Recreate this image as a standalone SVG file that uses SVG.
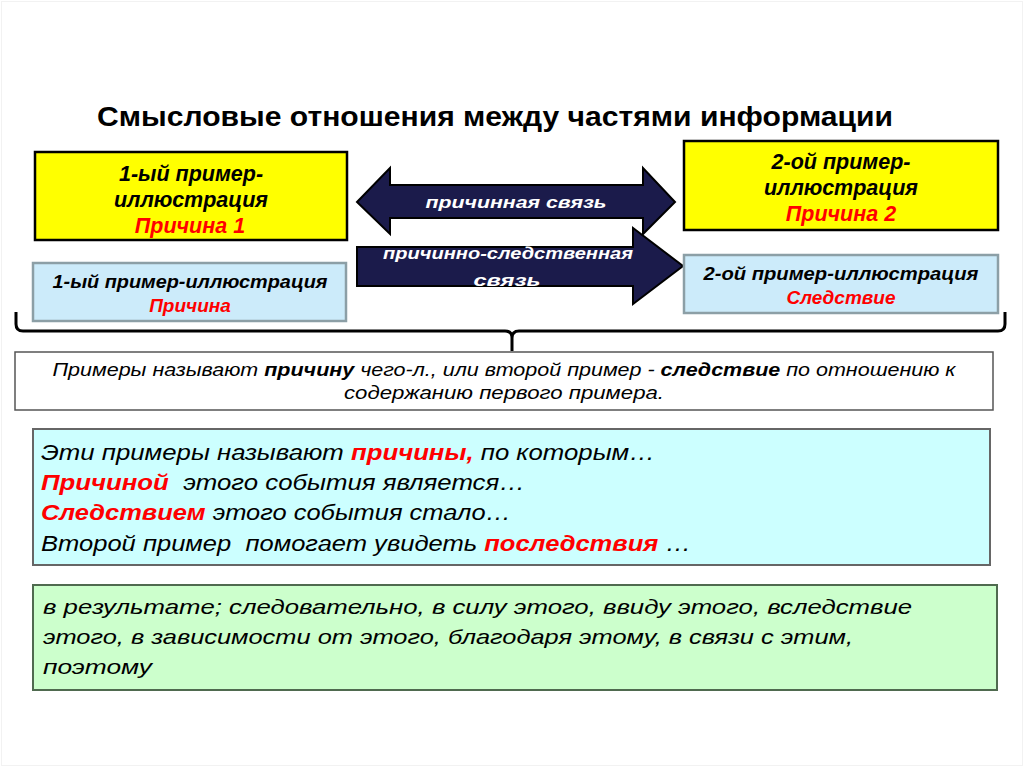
<svg xmlns="http://www.w3.org/2000/svg" width="1024" height="767" viewBox="0 0 1024 767">
<style>
text{font-family:"Liberation Sans",Arial,sans-serif;}
.bi{font-weight:bold;font-style:italic;}
.i{font-style:italic;}
.red{fill:#FF0000;}
.blk{fill:#000;}
.wht{fill:#FFFFFF;font-weight:bold;font-style:italic;font-size:17px;}
.yel{fill:#FFFF00;stroke:#000;stroke-width:2.5;}
.lb{fill:#CCEBFA;stroke:#8C9FA6;stroke-width:2.5;}
.arrow{fill:#1B1B4B;stroke:#000;stroke-width:2;}
</style>
<rect x="0" y="0" width="1024" height="767" fill="#FFFFFF"/>
<rect x="1.5" y="1.5" width="1021" height="764" fill="none" stroke="#F2F2F2" stroke-width="1"/>

<g id="title">
<text x="495" y="126" text-anchor="middle" font-size="28" font-weight="bold" textLength="796" lengthAdjust="spacingAndGlyphs">Смысловые отношения между частями информации</text>
</g>

<g id="connectors">
<path class="arrow" d="M357,202 L390,168 L390,185 L643,185 L643,168 L675,202 L643,234 L643,218 L390,218 L390,234 Z"/>
<text class="wht" x="516" y="208" text-anchor="middle" textLength="181" lengthAdjust="spacingAndGlyphs">причинная связь</text>
<path class="arrow" d="M357,247 L633,247 L633,228 L683,266 L633,304 L633,286 L357,286 Z"/>
<text class="wht" x="508" y="259" text-anchor="middle" textLength="250" lengthAdjust="spacingAndGlyphs">причинно-следственная</text>
<text class="wht" x="507" y="286" text-anchor="middle" textLength="67" lengthAdjust="spacingAndGlyphs">связь</text>
<path d="M16,312 L16,324 Q16,331 23,331 L505,331 Q512,331 512,338 L512,351 M512,338 Q512,331 519,331 L998,331 Q1005,331 1005,324 L1005,312" fill="none" stroke="#000" stroke-width="3"/>
</g>

<g id="node-cause1">
<rect class="yel" x="35" y="152" width="312" height="88"/>
<text class="bi blk" x="191" y="181" font-size="21.5" text-anchor="middle">1-ый пример-</text>
<text class="bi blk" x="191" y="207" font-size="21.5" text-anchor="middle">иллюстрация</text>
<text class="bi red" x="190" y="233" font-size="21.5" text-anchor="middle">Причина 1</text>
</g>

<g id="node-cause2">
<rect class="yel" x="684" y="141" width="314" height="89"/>
<text class="bi blk" x="841" y="169" font-size="21.5" text-anchor="middle">2-ой пример-</text>
<text class="bi blk" x="841" y="195" font-size="21.5" text-anchor="middle">иллюстрация</text>
<text class="bi red" x="841" y="221" font-size="21.5" text-anchor="middle">Причина 2</text>
</g>

<g id="node-example1">
<rect class="lb" x="33" y="263" width="313" height="58"/>
<text class="bi blk" x="190" y="288" font-size="18.5" text-anchor="middle" textLength="275" lengthAdjust="spacingAndGlyphs">1-ый пример-иллюстрация</text>
<text class="bi red" x="190" y="312" font-size="19" text-anchor="middle">Причина</text>
</g>

<g id="node-example2">
<rect class="lb" x="684" y="255" width="314" height="58"/>
<text class="bi blk" x="841" y="280" font-size="18.5" text-anchor="middle" textLength="275" lengthAdjust="spacingAndGlyphs">2-ой пример-иллюстрация</text>
<text class="bi red" x="841" y="304" font-size="19" text-anchor="middle">Следствие</text>
</g>

<g id="node-explain">
<rect x="15" y="352" width="978" height="58" fill="#FFFFFF" stroke="#555" stroke-width="1.5"/>
<text class="i" x="504" y="376" font-size="18" text-anchor="middle" textLength="903" lengthAdjust="spacingAndGlyphs">Примеры называют <tspan font-weight="bold">причину</tspan> чего-л., или второй пример - <tspan font-weight="bold">следствие</tspan> по отношению к</text>
<text class="i" x="504" y="399" font-size="18" text-anchor="middle" textLength="320" lengthAdjust="spacingAndGlyphs">содержанию первого примера.</text>
</g>

<g id="node-phrases">
<rect x="33" y="429" width="957" height="136" fill="#CCFFFF" stroke="#666" stroke-width="2"/>
<text class="i" x="41" y="460" font-size="22" textLength="614" lengthAdjust="spacingAndGlyphs">Эти примеры называют <tspan class="red" font-weight="bold">причины,</tspan> по которым…</text>
<text class="i" x="41" y="490" font-size="22" textLength="484" lengthAdjust="spacingAndGlyphs" xml:space="preserve"><tspan class="red" font-weight="bold">Причиной</tspan>  этого события является…</text>
<text class="i" x="41" y="520" font-size="22" textLength="470" lengthAdjust="spacingAndGlyphs"><tspan class="red" font-weight="bold">Следствием</tspan> этого события стало…</text>
<text class="i" x="41" y="551" font-size="22" textLength="650" lengthAdjust="spacingAndGlyphs" xml:space="preserve">Второй пример  помогает увидеть <tspan class="red" font-weight="bold">последствия</tspan> …</text>
</g>

<g id="node-connectives">
<rect x="33" y="585" width="964" height="105" fill="#CCFFCC" stroke="#4F6A4F" stroke-width="2"/>
<text class="i" x="43" y="614" font-size="21" textLength="869" lengthAdjust="spacingAndGlyphs">в результате; следовательно, в силу этого, ввиду этого, вследствие</text>
<text class="i" x="43" y="644" font-size="21" textLength="810" lengthAdjust="spacingAndGlyphs">этого, в зависимости от этого, благодаря этому, в связи с этим,</text>
<text class="i" x="43" y="674" font-size="21" textLength="109" lengthAdjust="spacingAndGlyphs">поэтому</text>
</g>
</svg>
